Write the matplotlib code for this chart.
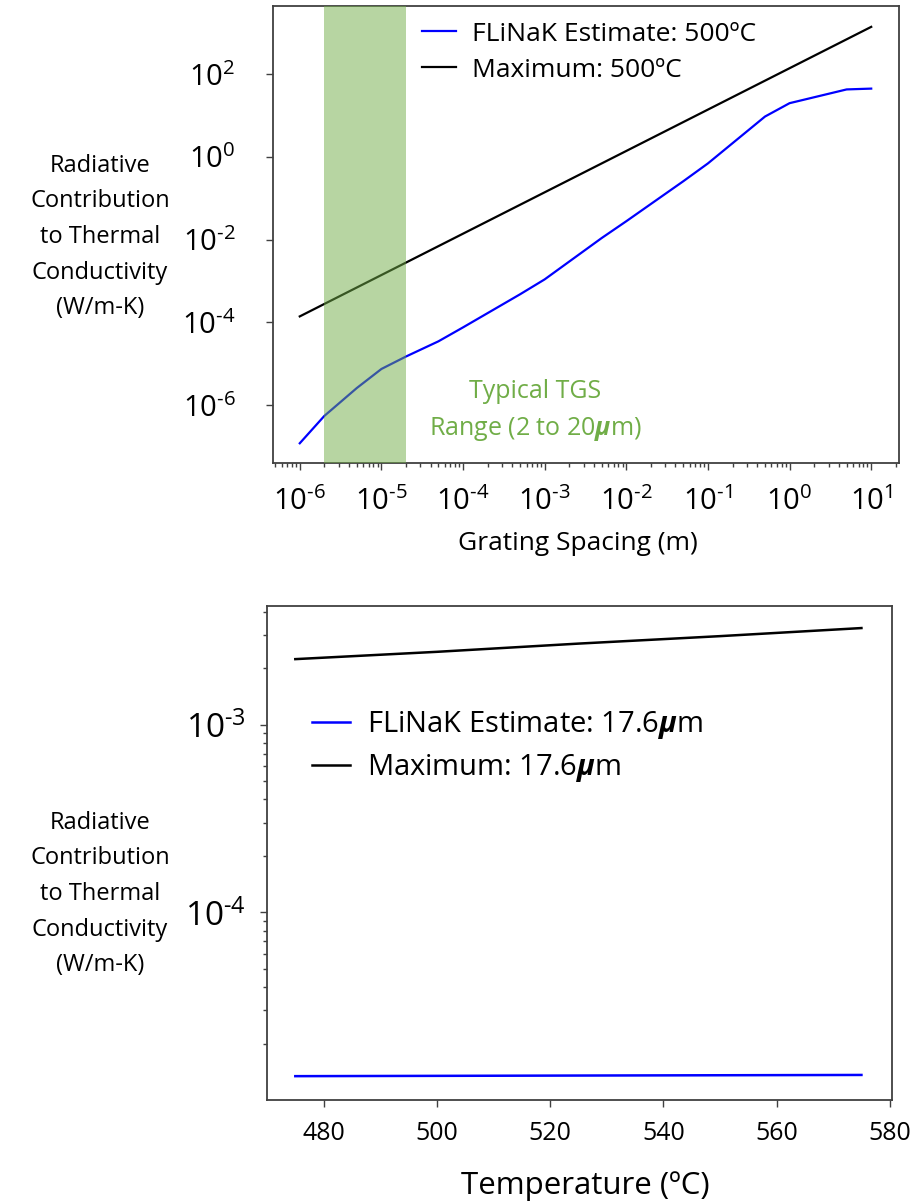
import matplotlib
matplotlib.use('Agg')
import matplotlib.pyplot as plt
from matplotlib.ticker import FixedLocator, FuncFormatter, NullFormatter, NullLocator, LogLocator
import numpy as np

plt.rcParams['font.family'] = ['Open Sans', 'DejaVu Sans']
plt.rcParams['mathtext.fontset'] = 'custom'
plt.rcParams['mathtext.rm'] = 'Open Sans'
plt.rcParams['mathtext.it'] = 'Open Sans:italic:bold'
plt.rcParams['mathtext.bf'] = 'Open Sans:bold'
plt.rcParams['mathtext.default'] = 'regular'

# ---------------- data ----------------
spacing_m = [1e-6, 2e-6, 5e-6, 1e-5, 2e-5, 5e-5, 1e-4, 5e-4, 1e-3, 5e-3,
             1e-2, 5e-2, 1e-1, 5e-1, 1, 5, 10]
flinak_500C = [1.2e-7, 5.5e-7, 2.6e-6, 7.5e-6, 1.5e-5, 3.5e-5, 7.6e-5, 4.8e-4,
               1.1e-3, 1.1e-2, 2.8e-2, 2.6e-1, 0.7, 9.5, 20, 43, 45]
max_spacing_m = [1e-6, 1e-5, 1e-4, 1e-3, 1e-2, 1e-1, 1, 10]
maximum_500C = [1.4e-4, 1.4e-3, 1.4e-2, 0.14, 1.4, 14, 140, 1400]
tgs_range_m = [2e-6, 2e-5]

temperature_C = [475, 500, 525, 550, 575]
flinak_176um = [1.34e-5, 1.345e-5, 1.35e-5, 1.355e-5, 1.36e-5]
maximum_176um = [2.24e-3, 2.45e-3, 2.71e-3, 2.97e-3, 3.28e-3]

top_yticks = [1e-6, 1e-4, 1e-2, 1e0, 1e2]
top_xticks = [1e-6, 1e-5, 1e-4, 1e-3, 1e-2, 1e-1, 1e0, 1e1]
bot_yticks = [1e-4, 1e-3]
bot_xticks = [480, 500, 520, 540, 560, 580]

ylabel_text = "Radiative\nContribution\nto Thermal\nConductivity\n(W/m-K)"
green = '#70AD47'
spine_col = '#404040'

W, H = 914, 1202
fig = plt.figure(figsize=(W / 100, H / 100), dpi=100)


def pow10(v, pos=None):
    e = int(round(np.log10(v)))
    if e < 0:
        return r'$\mathregular{10^{\text{-}%d}}$' % (-e)
    return r'$\mathregular{10^{%d}}$' % e


def style_axes(ax):
    for s in ax.spines.values():
        s.set_color(spine_col)
        s.set_linewidth(1.3)
    ax.tick_params(which='both', direction='out', color=spine_col, width=1.0)
    ax.tick_params(which='major', length=5)
    ax.tick_params(which='minor', length=3)


# ---------------- top panel ----------------
ax1 = fig.add_axes([273 / W, 1 - 463 / H, (899 - 273) / W, (463 - 6) / H])
ax1.set_xscale('log')
ax1.set_yscale('log')
ax1.plot(spacing_m, flinak_500C, color='#0000FF', lw=1.6, label='FLiNaK Estimate: 500ºC', zorder=2)
ax1.plot(max_spacing_m, maximum_500C, color='black', lw=1.6, label='Maximum: 500ºC', zorder=2)
ax1.axvspan(tgs_range_m[0], tgs_range_m[1], color=green, alpha=0.5, lw=0, zorder=3)
ax1.set_xlim(4.7e-7, 21.9)
ax1.set_ylim(4.0e-8, 4470)
ax1.xaxis.set_major_locator(FixedLocator(top_xticks))
ax1.xaxis.set_minor_locator(LogLocator(base=10, subs=np.arange(2, 10), numticks=30))
ax1.xaxis.set_major_formatter(FuncFormatter(pow10))
ax1.xaxis.set_minor_formatter(NullFormatter())
ax1.yaxis.set_major_locator(FixedLocator(top_yticks))
ax1.yaxis.set_minor_locator(NullLocator())
ax1.yaxis.set_major_formatter(FuncFormatter(pow10))
style_axes(ax1)
ax1.tick_params(axis='x', which='major', labelsize=21, pad=12)
ax1.tick_params(axis='y', which='major', labelsize=21, pad=22)
ax1.text(0.4185, 0.113, 'Typical TGS\nRange (2 to 20$\\mathit{\\mu}$m)', transform=ax1.transAxes,
         ha='center', va='center', color=green, fontsize=18, linespacing=1.55)
leg1 = ax1.legend(loc='upper left', bbox_to_anchor=(0.2, 1.018), frameon=False,
                  fontsize=19, handlelength=1.3, handletextpad=0.6, labelspacing=0.42)
fig.text(578 / W, 1 - 543 / H, 'Grating Spacing (m)', ha='center', va='center', fontsize=19)
fig.text(100 / W, 1 - 237 / H, ylabel_text, ha='center', va='center', fontsize=17,
         linespacing=1.65)

# ---------------- bottom panel ----------------
ax2 = fig.add_axes([267 / W, 1 - 1100 / H, (892 - 267) / W, (1100 - 606) / H])
ax2.set_yscale('log')
ax2.plot(temperature_C, flinak_176um, color='#0000FF', lw=1.8, label='FLiNaK Estimate: 17.6$\\mathit{\\mu}$m')
ax2.plot(temperature_C, maximum_176um, color='black', lw=1.8, label='Maximum: 17.6$\\mathit{\\mu}$m')
ax2.set_xlim(470, 580.4)
ax2.set_ylim(1.0e-5, 4.3e-3)
ax2.xaxis.set_major_locator(FixedLocator(bot_xticks))
ax2.yaxis.set_major_locator(FixedLocator(bot_yticks))
ax2.yaxis.set_minor_locator(LogLocator(base=10, subs=np.arange(2, 10), numticks=30))
ax2.yaxis.set_major_formatter(FuncFormatter(pow10))
ax2.yaxis.set_minor_formatter(NullFormatter())
style_axes(ax2)
ax2.tick_params(axis='x', which='major', labelsize=18, pad=10)
ax2.tick_params(axis='y', which='major', labelsize=24, pad=10)
leg2 = ax2.legend(loc='upper left', bbox_to_anchor=(0.03, 0.845), frameon=False,
                  fontsize=21, handlelength=1.3, handletextpad=0.6, labelspacing=0.4)
fig.text(585 / W, 1 - 1186 / H, 'Temperature (ºC)', ha='center', va='center', fontsize=22.5)
fig.text(100 / W, 1 - 894 / H, ylabel_text, ha='center', va='center', fontsize=17,
         linespacing=1.65)

fig.savefig('out.png', dpi=100)
